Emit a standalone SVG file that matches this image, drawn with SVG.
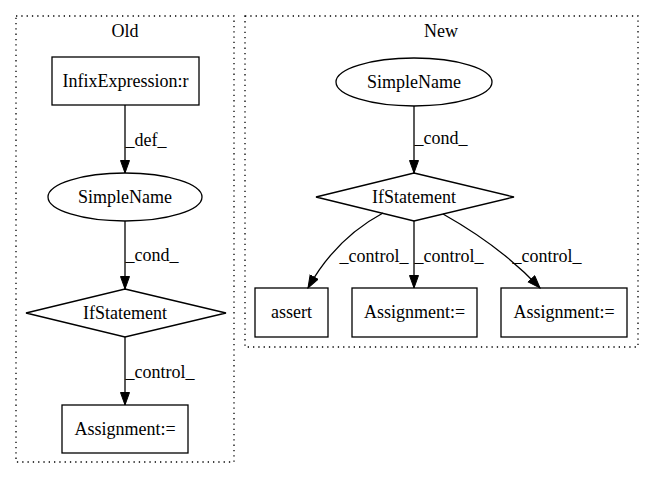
<svg xmlns="http://www.w3.org/2000/svg" width="653" height="480" viewBox="0 0 653 480">
<style>
text{font-family:"Liberation Serif","Times New Roman",serif;font-size:18px;fill:#000}
.n{fill:none;stroke:#000;stroke-width:1.3}
.c{fill:none;stroke:#000;stroke-width:1.3;stroke-dasharray:1.3,4}
.e{fill:none;stroke:#000;stroke-width:1.3;marker-end:url(#a)}
</style>
<defs>
<marker id="a" markerUnits="userSpaceOnUse" markerWidth="14" markerHeight="12" refX="13" refY="5" orient="auto">
<path d="M0.5,0.5 L13,5 L0.5,9.5 z" fill="#000" stroke="#000"/>
</marker>
</defs>
<rect width="653" height="480" fill="#fff"/>
<g id="cluster_old">
<rect class="c" x="16" y="16" width="218" height="446"/>
<text x="125" y="37" text-anchor="middle">Old</text>
</g>
<g id="cluster_new">
<rect class="c" x="245" y="16" width="393" height="331"/>
<text x="441" y="37" text-anchor="middle">New</text>
</g>
<g id="old_infix">
<rect class="n" x="52" y="57" width="147" height="48"/>
<text x="125.5" y="87" text-anchor="middle">InfixExpression:r</text>
</g>
<g id="old_simplename">
<ellipse class="n" cx="125" cy="197" rx="77" ry="24"/>
<text x="125" y="203" text-anchor="middle">SimpleName</text>
</g>
<g id="old_if">
<polygon class="n" points="125,289 226,313 125,337 26,313"/>
<text x="125" y="319" text-anchor="middle">IfStatement</text>
</g>
<g id="old_assign">
<rect class="n" x="62" y="405" width="126" height="48"/>
<text x="125" y="435" text-anchor="middle">Assignment:=</text>
</g>
<g id="new_simplename">
<ellipse class="n" cx="414" cy="82" rx="78" ry="24"/>
<text x="414" y="88" text-anchor="middle">SimpleName</text>
</g>
<g id="new_if">
<polygon class="n" points="414,173 514,197 414,221 316,197"/>
<text x="414" y="203" text-anchor="middle">IfStatement</text>
</g>
<g id="new_assert">
<rect class="n" x="255" y="288" width="73" height="49"/>
<text x="291.5" y="318" text-anchor="middle">assert</text>
</g>
<g id="new_assign1">
<rect class="n" x="352" y="288" width="125" height="49"/>
<text x="414.5" y="318" text-anchor="middle">Assignment:=</text>
</g>
<g id="new_assign2">
<rect class="n" x="501" y="288" width="126" height="49"/>
<text x="564" y="318" text-anchor="middle">Assignment:=</text>
</g>
<g id="edges">
<path class="e" d="M125,105 L125,173"/>
<text x="146" y="146" text-anchor="middle">_def_</text>
<path class="e" d="M125,221 L125,289"/>
<text x="152" y="261" text-anchor="middle">_cond_</text>
<path class="e" d="M125,337 L125,405"/>
<text x="160" y="378" text-anchor="middle">_control_</text>
<path class="e" d="M414,106 L414,173"/>
<text x="441" y="144" text-anchor="middle">_cond_</text>
<path class="e" d="M383,213 C355,228 328,252 308,288"/>
<text x="374" y="262" text-anchor="middle">_control_</text>
<path class="e" d="M414,221 L414,288"/>
<text x="449" y="262" text-anchor="middle">_control_</text>
<path class="e" d="M443,214 C475,232 510,256 540,288"/>
<text x="547" y="262" text-anchor="middle">_control_</text>
</g>
</svg>
